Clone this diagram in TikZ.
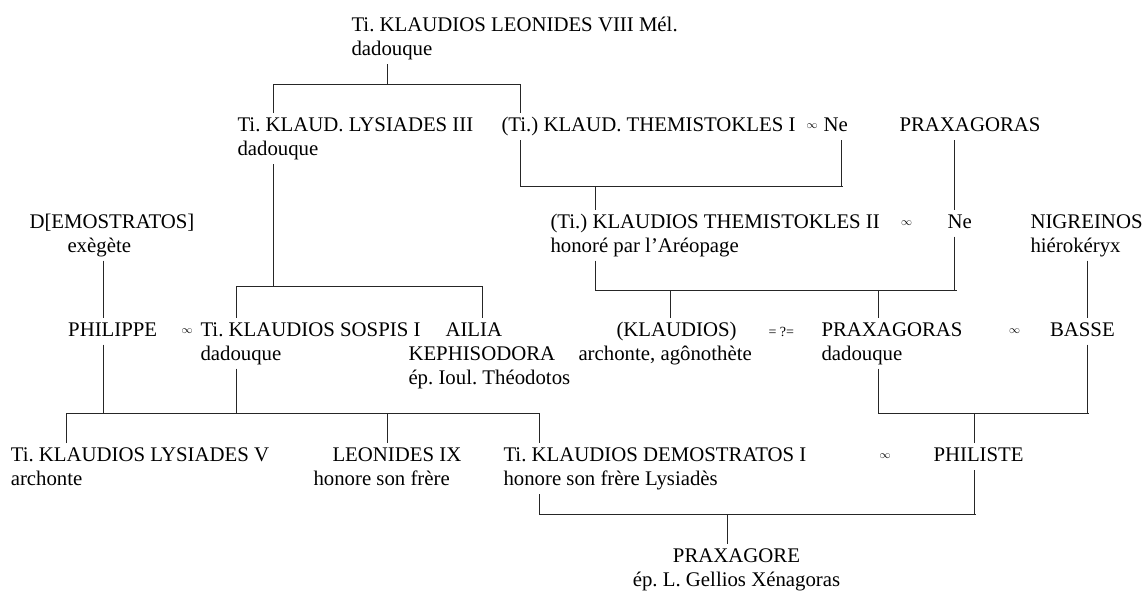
\documentclass[tikz,border=0pt]{standalone}
\usepackage{fontspec}
\setmainfont{Liberation Serif}
\frenchspacing
\newcommand{\pl}[1]{\begin{tabular}[t]{@{}l@{}}#1\end{tabular}}
\newcommand{\pc}[1]{\begin{tabular}[t]{@{}c@{}}#1\end{tabular}}
\begin{document}
\begin{tikzpicture}[x=1pt,y=-1pt,
  every node/.style={font=\fontsize{20.8}{24}\selectfont\frenchspacing},
  person/.style={anchor=base west, inner sep=0pt, outer sep=1.5pt},
  personc/.style={anchor=base, inner sep=0pt, outer sep=1.5pt},
  marr/.style={anchor=center, inner sep=0pt, font=\fontsize{11}{11}\selectfont},
  link/.style={draw=black!85, line width=0.9pt}]
\useasboundingbox[fill=white] (0,0) rectangle (1143,590);

% ---------- persons ----------
\node[person] (leo8) at (350,31.5) {\pl{Ti. KLAUDIOS LEONIDES VIII Mél.\\dadouque}};
\node[person] (lys3) at (236,131.5) {\pl{Ti. KLAUD. LYSIADES III\\dadouque}};
\node[person] (them1) at (500,131.5) {\pl{(Ti.) KLAUD. THEMISTOKLES I}};
\node[marr] (inf1) at (812,126.5) {$\infty$};
\node[person] (ne1) at (822,131.5) {\pl{Ne}};
\node[person] (prax1) at (898,131.5) {\pl{PRAXAGORAS}};

\node[person] (demo0) at (28,228) {\pl{D[EMOSTRATOS]\\\hspace*{38pt}exègète}};
\node[person] (them2) at (549,228) {\pl{(Ti.) KLAUDIOS THEMISTOKLES II\\honoré par l’Aréopage}};
\node[marr] (inf2) at (906.5,223) {$\infty$};
\node[person] (ne2) at (946,228) {\pl{Ne}};
\node[person] (nig) at (1029,228) {\pl{NIGREINOS\\hiérokéryx}};

\node[person] (phil) at (66.7,336) {\pl{PHILIPPE}};
\node[marr] (inf3) at (187,331) {$\infty$};
\node[person] (sos) at (199,336) {\pl{Ti. KLAUDIOS SOSPIS I\\dadouque}};
\node[person] (ailia) at (407,336) {\pl{\hspace*{37pt}AILIA\\KEPHISODORA\\ép. Ioul. Théodotos}};
\node[person] (klau) at (577,336) {\pl{\hspace*{38pt}(KLAUDIOS)\\archonte, agônothète}};
\node[person, font=\fontsize{14}{24}\selectfont] (eq) at (767,336) {= ?=};
\node[person] (prax2) at (820,336) {\pl{PRAXAGORAS\\dadouque}};
\node[marr] (inf4) at (1014.5,331) {$\infty$};
\node[person] (basse) at (1048.5,336) {\pl{BASSE}};

\node[person] (lys5) at (9.3,461.5) {\pl{Ti. KLAUDIOS LYSIADES V\\archonte}};
\node[person] (leo9) at (312,461.5) {\pl{\hspace*{19pt}LEONIDES IX\\honore son frère}};
\node[person] (demo1) at (502,461.5) {\pl{Ti. KLAUDIOS DEMOSTRATOS I\\honore son frère Lysiadès}};
\node[marr] (inf5) at (885,456.5) {$\infty$};
\node[person] (phst) at (932,461.5) {\pl{PHILISTE}};

\node[personc] (praxe) at (736.5,562) {\pc{PRAXAGORE\\ép. L. Gellios Xénagoras}};

% ---------- junction points ----------
\coordinate (b1M) at (387,84);
\coordinate (b1L) at (273,84);
\coordinate (b1R) at (520,84);

\coordinate (m1L) at (520,186);
\coordinate (m1R) at (841,186);
\coordinate (m1E) at (843,186);
\coordinate (m1C) at (595,186);

\coordinate (m2L) at (595,290);
\coordinate (m2R) at (954.3,290);
\coordinate (m2E) at (957,290);
\coordinate (m2a) at (670.5,290);
\coordinate (m2b) at (878,290);

\coordinate (b2M) at (273,286);
\coordinate (b2L) at (236,286);
\coordinate (b2R) at (482,286);

\coordinate (m3P) at (103,413);
\coordinate (m3S) at (236,413);
\coordinate (m3L) at (66,413);
\coordinate (m3a) at (387.8,413);
\coordinate (m3R) at (539,413);

\coordinate (m4L) at (878,413);
\coordinate (m4R) at (1087,413);
\coordinate (m4E) at (1089,413);
\coordinate (m4C) at (974.5,413);

\coordinate (m5L) at (539,514);
\coordinate (m5R) at (974,514);
\coordinate (m5E) at (976,514);
\coordinate (m5C) at (727,514);

% ---------- connectors ----------
% Leonides VIII -> children
\draw[link] (leo8.south -| b1M) -- (b1M);
\draw[link] (lys3.north -| b1L) -- (b1L) -- (b1R) -- (them1.north -| b1R);
% Themistokles I oo Ne
\draw[link] (them1.south -| m1L) -- (m1L) -- (m1E);
\draw[link] (ne1.south -| m1R) -- (m1R);
\draw[link] (m1C) -- (them2.north -| m1C);
% Praxagoras -> Ne
\draw[link] (prax1.south -| m2R) -- (ne2.north -| m2R);
% Themistokles II oo Ne
\draw[link] (them2.south -| m2L) -- (m2L) -- (m2E);
\draw[link] (ne2.south -| m2R) -- (m2R);
\draw[link] (m2a) -- (klau.north -| m2a);
\draw[link] (m2b) -- (prax2.north -| m2b);
% Lysiades III -> children
\draw[link] (lys3.south -| b2M) -- (b2M);
\draw[link] (sos.north -| b2L) -- (b2L) -- (b2R) -- (ailia.north -| b2R);
% Demostratos -> Philippe
\draw[link] (demo0.south -| m3P) -- (phil.north -| m3P);
% Philippe oo Sospis
\draw[link] (phil.south -| m3P) -- (m3P);
\draw[link] (sos.south -| m3S) -- (m3S);
\draw[link] (lys5.north -| m3L) -- (m3L) -- (m3R) -- (demo1.north -| m3R);
\draw[link] (m3a) -- (leo9.north -| m3a);
% Nigreinos -> Basse
\draw[link] (nig.south -| m4R) -- (basse.north -| m4R);
% Praxagoras oo Basse
\draw[link] (prax2.south -| m4L) -- (m4L) -- (m4E);
\draw[link] (basse.south -| m4R) -- (m4R);
\draw[link] (m4C) -- (phst.north -| m4C);
% Demostratos I oo Philiste
\draw[link] (demo1.south -| m5L) -- (m5L) -- (m5E);
\draw[link] (phst.south -| m5R) -- (m5R);
\draw[link] (m5C) -- (praxe.north -| m5C);
\end{tikzpicture}
\end{document}
